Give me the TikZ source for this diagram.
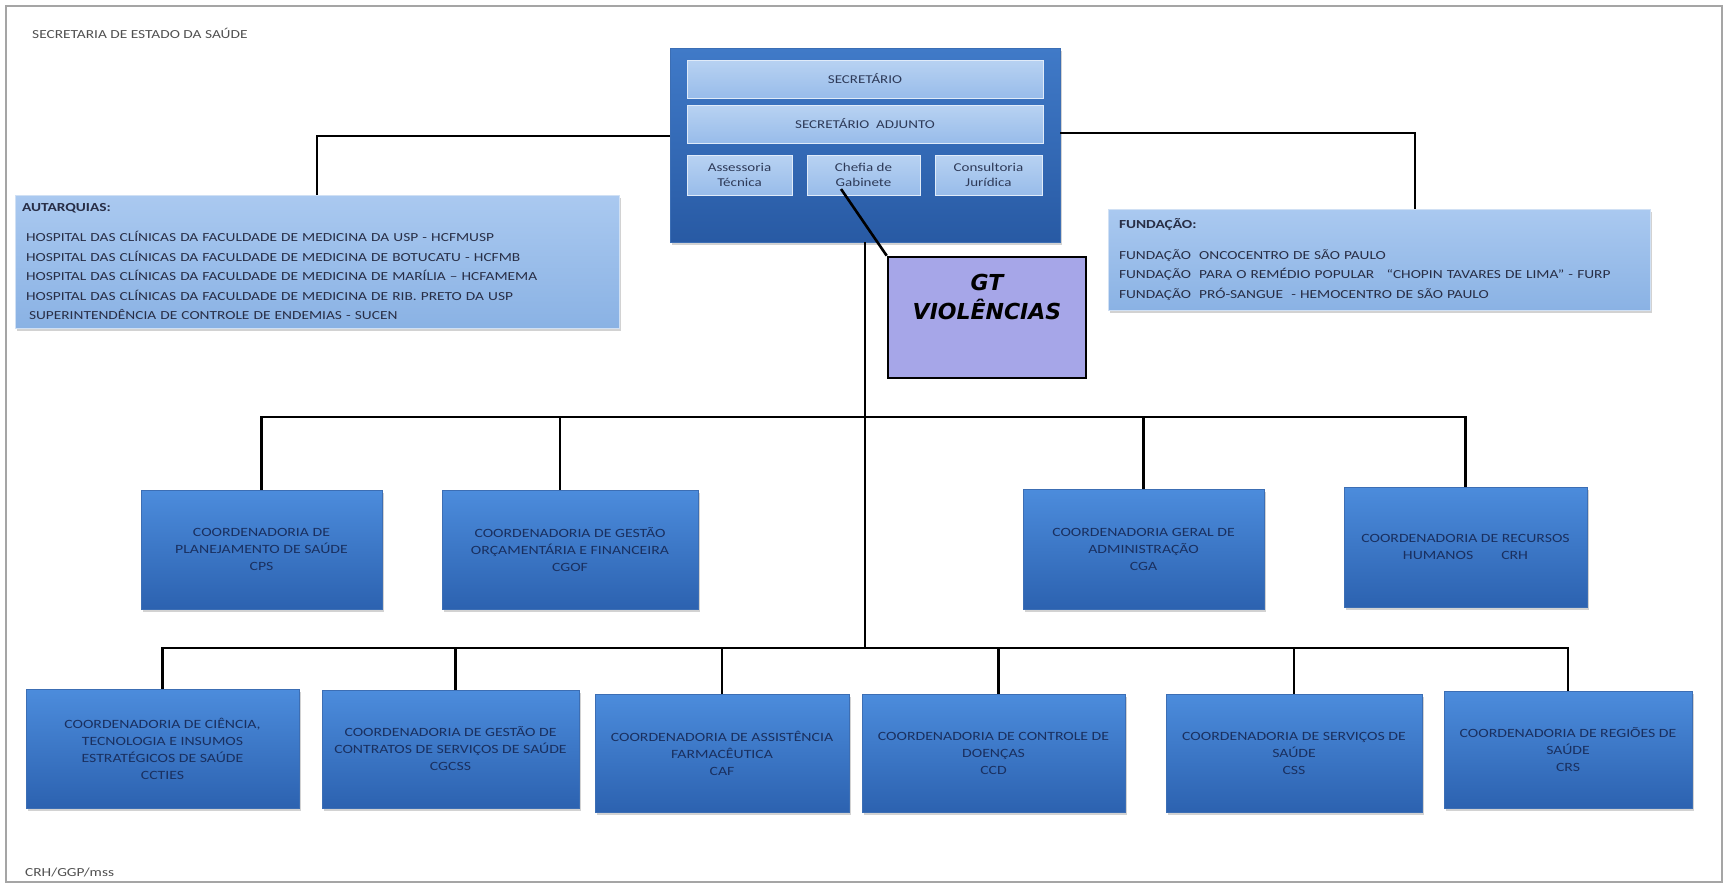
\documentclass[tikz,border=0pt]{standalone}
\usepackage{fontspec}
\setmainfont{Carlito}[FakeStretch=1.25]
\newfontfamily\gtfont{DejaVu Sans}
\usetikzlibrary{positioning,shadows}

\definecolor{framegray}{RGB}{165,165,165}
\definecolor{titlegray}{RGB}{80,80,80}
\definecolor{coordtop}{RGB}{76,140,220}
\definecolor{coordbot}{RGB}{44,98,176}
\definecolor{coordedge}{RGB}{60,110,180}
\definecolor{coordtext}{RGB}{26,48,96}
\definecolor{headtop}{RGB}{64,122,200}
\definecolor{headbot}{RGB}{40,90,164}
\definecolor{bartop}{RGB}{184,210,242}
\definecolor{barbot}{RGB}{152,188,234}
\definecolor{bartext}{RGB}{46,58,88}
\definecolor{listtop}{RGB}{170,201,240}
\definecolor{listbot}{RGB}{138,178,228}
\definecolor{listtext}{RGB}{40,46,70}
\definecolor{gtfill}{RGB}{166,166,232}

\tikzset{
  link/.style={line width=2.6pt, black},
  boxshadow/.style={drop shadow={shadow xshift=2pt, shadow yshift=-3pt, opacity=.35}},
  coordbox/.style={rectangle, draw=coordedge, line width=.6pt, top color=coordtop,
    bottom color=coordbot, text=coordtext, align=center, boxshadow,
    font=\fontsize{12.6}{17}\selectfont},
  headbox/.style={rectangle, draw=coordedge, line width=.6pt, top color=headtop,
    bottom color=headbot, boxshadow},
  barbox/.style={rectangle, draw=white!70!barbot, line width=.8pt, top color=bartop,
    bottom color=barbot, text=bartext, align=center,
    font=\fontsize{12}{15}\selectfont},
  listbox/.style={rectangle, draw=white!60!listbot, line width=.6pt, top color=listtop,
    bottom color=listbot, text=listtext, align=left, boxshadow,
    font=\fontsize{12.3}{19.5}\selectfont},
  gtbox/.style={rectangle, draw=black, line width=2.6pt, fill=gtfill},
  gttext/.style={inner sep=0pt, align=center, font=\gtfont\bfseries\itshape\fontsize{22}{29}\selectfont},
  plain/.style={text=titlegray, inner sep=0pt, font=\fontsize{12.3}{14}\selectfont}
}

\begin{document}
\begin{tikzpicture}[x=1pt,y=-1pt]
\useasboundingbox (0,0) rectangle (1728,887);
\fill[white] (0,0) rectangle (1728,887);
\draw[framegray, line width=2pt] (6,6) rectangle (1722,882);

\node[plain, anchor=west] (title) at (32,33) {SECRETARIA DE ESTADO DA SAÚDE};
\node[plain, anchor=west] (footer) at (25,872) {CRH/GGP/mss};

% secretario
\node[headbox, minimum width=390pt, minimum height=194pt] (head) at (865,145) {};
\node[barbox, minimum width=356pt, minimum height=38pt] (sec) at (865,79) {SECRETÁRIO};
\node[barbox, minimum width=356pt, minimum height=38pt] (adj) at (865,124) {SECRETÁRIO\ \ ADJUNTO};
\node[barbox, minimum width=105pt, minimum height=40pt] (asse) at (739.5,175) {Assessoria\\Técnica};
\node[barbox, minimum width=113pt, minimum height=40pt] (chefia) at (863.5,175) {Chefia de\\Gabinete};
\node[barbox, minimum width=107pt, minimum height=40pt] (cons) at (988.5,175) {Consultoria\\Jurídica};

% autarquias / fundacao
\node[listbox, minimum width=604pt, minimum height=133pt, text width=590pt] (aut) at (317,261.5)
  {\textbf{AUTARQUIAS:}\\[11pt]
   \hspace*{4pt}HOSPITAL DAS CLÍNICAS DA FACULDADE DE MEDICINA DA USP - HCFMUSP\\
   \hspace*{4pt}HOSPITAL DAS CLÍNICAS DA FACULDADE DE MEDICINA DE BOTUCATU - HCFMB\\
   \hspace*{4pt}HOSPITAL DAS CLÍNICAS DA FACULDADE DE MEDICINA DE MARÍLIA – HCFAMEMA\\
   \hspace*{4pt}HOSPITAL DAS CLÍNICAS DA FACULDADE DE MEDICINA DE RIB. PRETO DA USP\\
   \hspace*{7pt}SUPERINTENDÊNCIA DE CONTROLE DE ENDEMIAS - SUCEN};
\node[listbox, minimum width=542pt, minimum height=101pt, text width=520pt] (fund) at (1379,259.5)
  {\textbf{FUNDAÇÃO:}\\[11pt]
   FUNDAÇÃO\ \ ONCOCENTRO DE SÃO PAULO\\
   FUNDAÇÃO\ \ PARA O REMÉDIO POPULAR\ \ \ “CHOPIN TAVARES DE LIMA” - FURP\\
   FUNDAÇÃO\ \ PRÓ-SANGUE\ \ - HEMOCENTRO DE SÃO PAULO};

% GT
\node[gtbox, minimum width=198pt, minimum height=121pt] (gt) at (987,317.5) {};
\node[gttext, below=18pt of gt.north] (gtlabel) {GT\\VIOLÊNCIAS};

% coordenadorias
\node[coordbox, minimum width=241pt, minimum height=119pt] (cps) at (261.5,549.5)
  {COORDENADORIA DE\\PLANEJAMENTO DE SAÚDE\\CPS};
\node[coordbox, minimum width=256pt, minimum height=119pt] (cgof) at (570,549.5)
  {COORDENADORIA DE GESTÃO\\ORÇAMENTÁRIA E FINANCEIRA\\CGOF};
\node[coordbox, minimum width=241pt, minimum height=120pt] (cga) at (1143.5,549)
  {COORDENADORIA GERAL DE\\ADMINISTRAÇÃO\\CGA};
\node[coordbox, minimum width=243pt, minimum height=120pt] (crh) at (1465.5,547)
  {COORDENADORIA DE RECURSOS\\HUMANOS\hspace{28pt}CRH};

\node[coordbox, minimum width=273pt, minimum height=119pt] (ccties) at (162.5,748.5)
  {COORDENADORIA DE CIÊNCIA,\\TECNOLOGIA E INSUMOS\\ESTRATÉGICOS DE SAÚDE\\CCTIES};
\node[coordbox, minimum width=257pt, minimum height=118pt] (cgcss) at (450.5,749)
  {COORDENADORIA DE GESTÃO DE\\CONTRATOS DE SERVIÇOS DE SAÚDE\\CGCSS};
\node[coordbox, minimum width=254pt, minimum height=118pt] (caf) at (722,753)
  {COORDENADORIA DE ASSISTÊNCIA\\FARMACÊUTICA\\CAF};
\node[coordbox, minimum width=263pt, minimum height=118pt] (ccd) at (993.5,753)
  {COORDENADORIA DE CONTROLE DE\\DOENÇAS\\CCD};
\node[coordbox, minimum width=256pt, minimum height=118pt] (css) at (1294,753)
  {COORDENADORIA DE SERVIÇOS DE\\SAÚDE\\CSS};
\node[coordbox, minimum width=248pt, minimum height=117pt] (crs) at (1568,749.5)
  {COORDENADORIA DE REGIÕES DE\\SAÚDE\\CRS};

% links
\coordinate (busa) at (865,417);
\coordinate (busb) at (865,648);
\coordinate (chefiapt) at (841,189);
\draw[link] (head.south) -- (busb);
\draw[link] (head.west |- 0,136) -| (aut.north);
\draw[link] (head.east |- 0,133) -| ([xshift=36pt]fund.north);
\foreach \n in {cps,cga,crh}
  \draw[link] (\n.north) |- (busa);
\draw[link] ([xshift=-10pt]cgof.north) |- (busa);
\foreach \n in {ccties,caf,css,crs}
  \draw[link] (\n.north) |- (busb);
\foreach \n in {cgcss,ccd}
  \draw[link] ([xshift=5pt]\n.north) |- (busb);
\draw[link] (chefiapt) -- (gt.north west);
\end{tikzpicture}
\end{document}
